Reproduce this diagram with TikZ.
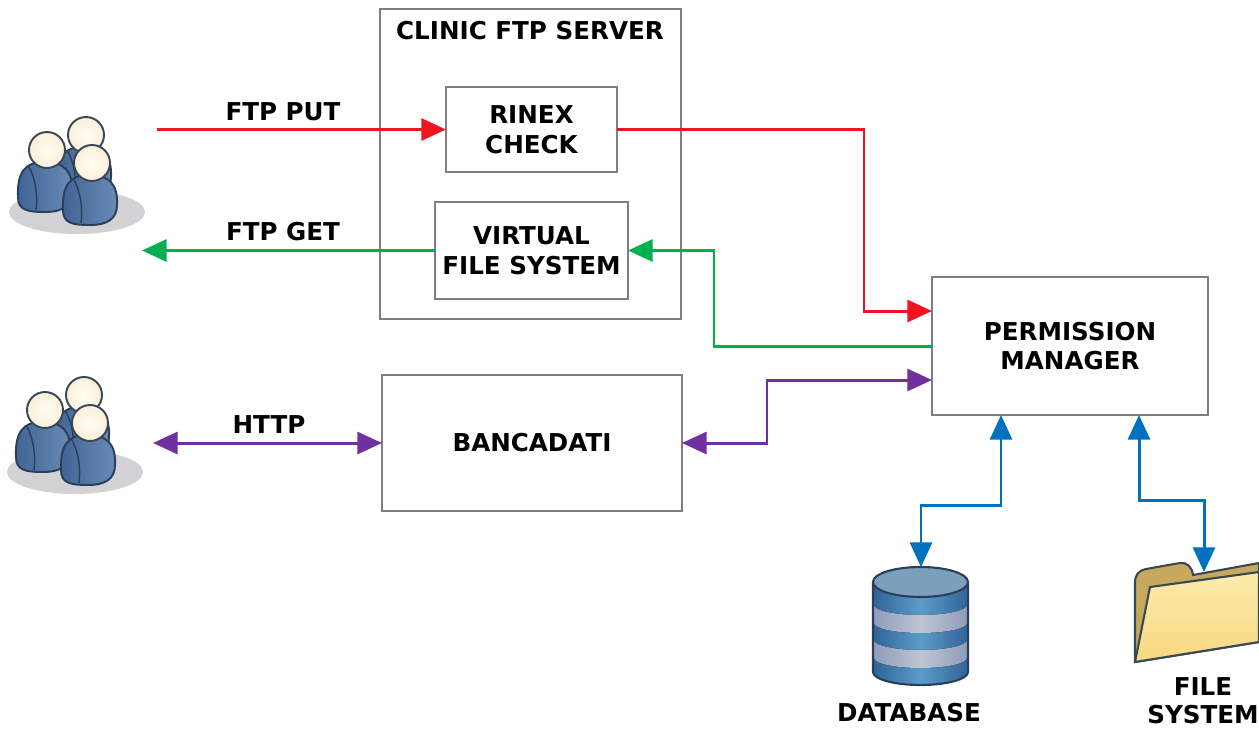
\documentclass[tikz,border=0pt]{standalone}
\usepackage{fontspec}
\setmainfont{DejaVu Sans}
\usetikzlibrary{arrows.meta}

\definecolor{putred}{HTML}{F01420}
\definecolor{getgreen}{HTML}{00B050}
\definecolor{webpurple}{HTML}{7030A0}
\definecolor{linkblue}{HTML}{0070C0}
\definecolor{boxgray}{HTML}{7F7F7F}
\definecolor{inkblue}{HTML}{2B3F5C}
\definecolor{inkdark}{HTML}{3A4855}
\definecolor{bodydark}{HTML}{3F6494}
\definecolor{bodylight}{HTML}{6A8BB6}
\definecolor{headlight}{HTML}{FFFCF3}
\definecolor{headdark}{HTML}{FAF0DA}
\definecolor{shadowgray}{HTML}{D2D2D4}
\definecolor{dbdark}{HTML}{2F6496}
\definecolor{dbmid}{HTML}{5C9CC9}
\definecolor{dbpale}{HTML}{8F9DB9}
\definecolor{dbpalemid}{HTML}{BEC5D5}
\definecolor{dbtop}{HTML}{7BA0BC}
\definecolor{foldertab}{HTML}{C6A95F}
\definecolor{foldertop}{HTML}{FBEBAB}
\definecolor{folderlow}{HTML}{F9D880}

\tikzset{
	box/.style={draw=boxgray, line width=0.8pt, outer sep=0pt, align=center, font=\fontsize{14}{17}\selectfont\bfseries},
	label/.style={align=center, inner sep=0pt, font=\fontsize{14}{15.8}\selectfont\bfseries},
	link/.style={line width=1.7pt, {Triangle[length=14pt,width=12.5pt]}-{Triangle[length=14pt,width=12.5pt]}},
	linkto/.style={line width=1.7pt, -{Triangle[length=14pt,width=12.5pt]}},
	person/.pic={
		\draw [inkblue, line width=1.1pt, left color=bodydark, right color=bodylight]
			(-29,47) .. controls (-30,22) and (-22,12) .. (-3,12)
			.. controls (18,12) and (26,22) .. (25,42)
			.. controls (25,56) and (15,62) .. (-2,62)
			.. controls (-20,62) and (-29,60) .. (-29,47) -- cycle;
		\draw [inkblue, line width=0.8pt] (-18,17) .. controls (-12,28) and (-9,44) .. (-11,60);
		\draw [inkdark, line width=1.1pt, inner color=headlight, outer color=headdark] (0,0) circle (18);
	},
	users/.pic={
		\fill [shadowgray] (30,62) ellipse (68 and 22);
		\pic at (39,-15) {person};
		\pic at (0,0) {person};
		\pic at (45,13) {person};
	}
}

\begin{document}
\begin{tikzpicture}[x=0.02cm,y=-0.02cm]
	\useasboundingbox (0,0) rectangle (1259,728);

	\node [box, minimum width=301*0.02cm, minimum height=310*0.02cm] (server) at (530.5,164) {};
	\node [box, minimum width=171*0.02cm, minimum height=85*0.02cm] (rinex) at (531.5,129.5) {RINEX\\CHECK};
	\node [box, minimum width=193*0.02cm, minimum height=97*0.02cm] (vfs) at (531.5,250.5) {VIRTUAL\\FILE SYSTEM};
	\node [box, minimum width=300*0.02cm, minimum height=136*0.02cm] (bancadati) at (532,443) {BANCADATI};
	\node [box, minimum width=276*0.02cm, minimum height=138*0.02cm] (permission) at (1070,346) {PERMISSION\\MANAGER};

	\coordinate (putStart) at (157,129.5);
	\coordinate (getEnd) at (142,250.5);
	\coordinate (httpStart) at (153,443);
	\coordinate (redA) at (864,129.5);
	\coordinate (redB) at (864,311);
	\coordinate (redEnd) at (932,311);
	\coordinate (greenA) at (714,346);
	\coordinate (greenB) at (714,250.5);
	\coordinate (purpleA) at (767,443);
	\coordinate (purpleB) at (767,380);
	\coordinate (purpleEnd) at (932,380);
	\coordinate (dbTop) at (1001,415);
	\coordinate (dbA) at (1001,505);
	\coordinate (dbB) at (921,505);
	\coordinate (dbEnd) at (921,567);
	\coordinate (fsTop) at (1139,415);
	\coordinate (fsA) at (1139,500);
	\coordinate (fsB) at (1204,500);
	\coordinate (fsEnd) at (1204,572);

	% users
	\pic at (47,150) {users};
	\pic at (45,410) {users};

	% database
	\path [left color=dbdark, right color=dbdark, middle color=dbmid]
		(873,582) -- (873,672) arc [start angle=180, end angle=0, x radius=47.5, y radius=13] -- (968,582) -- cycle;
	\foreach \yy in {605,640} {
		\fill [left color=dbpale, right color=dbpale, middle color=dbpalemid]
			(874,\yy) -- (874,\yy+18) arc [start angle=180, end angle=0, x radius=46.5, y radius=10]
			-- (967,\yy) arc [start angle=0, end angle=180, x radius=46.5, y radius=10] -- cycle;
	}
	\draw [inkblue, line width=1.2pt]
		(873,582) -- (873,672) arc [start angle=180, end angle=0, x radius=47.5, y radius=13] -- (968,582);
	\draw [inkblue, line width=1.2pt, fill=dbtop] (920.5,582) ellipse (47.5 and 15);

	% folder
	\draw [inkdark, line width=1.2pt, fill=foldertab]
		(1135,662) -- (1135,583) .. controls (1135,575) and (1138,571) .. (1146,569)
		-- (1180,563) .. controls (1187,562) and (1192,567) .. (1193,575)
		-- (1259,563) -- (1259,642) -- cycle;
	\draw [inkdark, line width=1.2pt, top color=foldertop, bottom color=folderlow]
		(1135,662) -- (1150,587) -- (1259,572) -- (1259,642) -- cycle;

	% connectors
	\draw [linkto, putred] (putStart) -- (rinex.west);
	\draw [linkto, putred] (rinex.east) -- (redA) -- (redB) -- (redEnd);
	\draw [linkto, getgreen] (vfs.west) -- (getEnd);
	\draw [linkto, getgreen] (permission.west) -- (greenA) -- (greenB) -- (vfs.east);
	\draw [link, webpurple] (httpStart) -- (bancadati.west);
	\draw [link, webpurple] (bancadati.east) -- (purpleA) -- (purpleB) -- (purpleEnd);
	\draw [link, linkblue] (dbTop) -- (dbA) -- (dbB) -- (dbEnd);
	\draw [link, linkblue] (fsTop) -- (fsA) -- (fsB) -- (fsEnd);

	% labels
	\node [label] (serverLabel) at (530,31) {CLINIC FTP SERVER};
	\node [label] (putLabel) at (283,112) {FTP PUT};
	\node [label] (getLabel) at (283,232) {FTP GET};
	\node [label] (httpLabel) at (269,425) {HTTP};
	\node [label] (dbLabel) at (909,713) {DATABASE};
	\node [label] (fsLabel) at (1203,701) {FILE\\SYSTEM};

\end{tikzpicture}
\end{document}
